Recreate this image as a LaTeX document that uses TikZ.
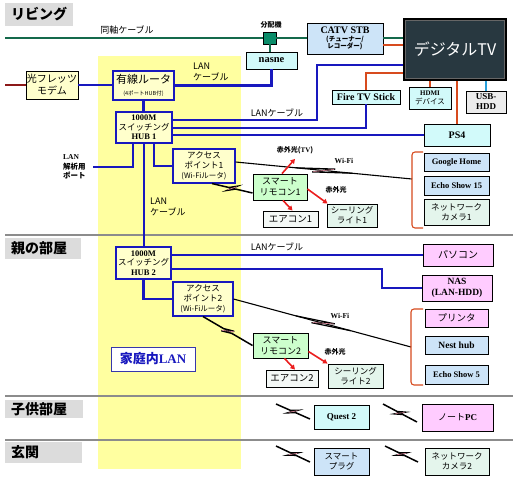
\documentclass[tikz,border=0pt]{standalone}
\usepackage{fontspec}
\setmainfont{Liberation Serif}
\newfontfamily\jp{Noto Sans CJK JP}
\usetikzlibrary{arrows.meta,calc}
\definecolor{lanblue}{RGB}{24,24,190}
\definecolor{coax}{RGB}{20,105,75}
\definecolor{splitg}{RGB}{10,140,105}
\definecolor{hdmi}{RGB}{215,75,30}
\definecolor{ired}{RGB}{235,30,30}
\definecolor{modemred}{RGB}{140,25,25}
\definecolor{usbblue}{RGB}{40,160,220}
\definecolor{yel}{RGB}{255,255,160}
\definecolor{boxyel}{RGB}{255,255,204}
\definecolor{cyanbox}{RGB}{210,250,250}
\definecolor{bluebox}{RGB}{205,228,248}
\definecolor{pinkbox}{RGB}{255,204,255}
\definecolor{greenbox}{RGB}{204,255,204}
\definecolor{mintbox}{RGB}{228,245,236}
\definecolor{whitebox}{RGB}{244,248,246}
\definecolor{graybox}{RGB}{236,236,236}
\definecolor{roomgray}{RGB}{220,220,220}
\definecolor{tvfill}{RGB}{40,56,64}
\definecolor{sepgray}{RGB}{140,140,140}
\definecolor{zappink}{RGB}{240,150,170}
\newcommand\fz[2]{\fontsize{#1}{#2}\selectfont}
\newcommand\bx[7]{\node[#6, minimum width={(#4-#2)*1pt}, minimum height={(#5-#3)*1pt}] (#1) at ({(#2+#4)/2},{(#3+#5)/2}) {#7};}
\newcommand\zap[2]{%
  \draw[line width=1.5pt, black] (#1) -- ($(#1)!0.42!(#2)$) -- ($(#1)!0.6!(#2)!3pt!90:(#2)$) -- ($(#1)!0.4!(#2)!3pt!-90:(#2)$) -- ($(#1)!0.58!(#2)$) -- (#2);
  \draw[line width=0.6pt, zappink] ($(#1)!0.6!(#2)!2.5pt!90:(#2)$) -- ($(#1)!0.4!(#2)!2.5pt!-90:(#2)$);}
\newcommand\zapw[2]{%
  \draw[line width=1.2pt, black] (#1) -- ($(#1)!0.7!(#2)!2.5pt!90:(#2)$) -- ($(#1)!0.3!(#2)!2.5pt!-90:(#2)$) -- (#2);
  \draw[line width=0.6pt, zappink] ($(#1)!0.68!(#2)!2pt!90:(#2)$) -- ($(#1)!0.32!(#2)!2pt!-90:(#2)$);}
\tikzset{
  dev/.style={draw=black, line width=0.9pt, inner sep=1pt, align=center, font=\jp\fz{9}{10.5}},
  ybox/.style={draw=lanblue, fill=boxyel, line width=1.1pt, inner sep=1pt, align=center},
  room/.style={fill=roomgray, inner xsep=6pt, inner ysep=0pt, align=left, font=\jp\bfseries\fz{14}{16}},
  lan/.style={draw=lanblue, line width=2.2pt},
  coaxl/.style={draw=coax, line width=2pt},
  av/.style={draw=hdmi, line width=2pt},
  wifi/.style={draw=black, line width=1.1pt},
  brk/.style={draw=hdmi, line width=1.1pt, rounded corners=3pt},
  lbl/.style={inner sep=0pt, align=left, font=\jp\fz{9}{10.5}},
  slbl/.style={inner sep=0pt, align=left, font=\jp\bfseries\fz{7}{8.5}},
  irarr/.style={draw=ired, line width=1.6pt, -{Triangle[length=4.5pt,width=5pt]}},
  sep/.style={draw=sepgray, line width=2pt}
}
\begin{document}
\begin{tikzpicture}[x=1pt,y=-1pt]
\useasboundingbox (0,0) rectangle (516,483);
\fill[white] (0,0) rectangle (516,483);
\fill[yel] (98,56) rectangle (241,469);
\draw[sep] (5,235) -- (513,235);
\draw[sep] (5,396) -- (513,396);
\draw[sep] (5,440) -- (513,440);
% rooms
\bx{rliving}{5}{3}{73}{26}{room, text width=56pt}{リビング}
\bx{rparent}{5}{238}{81}{259}{room, text width=64pt}{親の部屋}
\bx{rchild}{5}{400}{83}{418}{room, text width=66pt}{子供部屋}
\bx{rentr}{5}{442}{82}{463}{room, text width=65pt}{玄関}
% living devices
\bx{split}{263}{32}{276}{44}{draw=black, fill=splitg, line width=0.8pt, inner sep=0pt}{}
\bx{nasne}{246}{52}{297}{69}{dev, fill=cyanbox, font=\fz{10.5}{12}\bfseries}{nasne}
\bx{stb}{307}{23}{383}{54}{dev, fill=bluebox, font=\jp\bfseries\fz{6.5}{7.5}}{{\rmfamily\fz{10}{11}\bfseries CATV STB}\\(チューナー/\\レコーダー)}
\bx{tv}{404}{19}{506}{80}{draw=black, fill=tvfill, line width=2.5pt, text=white, font=\jp\fz{16}{18}}{デジタルTV}
\draw[gray!80!black, line width=0.6pt] ([shift={(3pt,-3pt)}]tv.north west) rectangle ([shift={(-3pt,3pt)}]tv.south east);
\bx{hdmi}{409}{87}{451}{109}{dev, fill=cyanbox, font=\jp\fz{7.5}{8.5}}{{\rmfamily\bfseries\fz{7}{8}HDMI}\\デバイス}
\bx{usb}{466}{91}{506}{113}{dev, fill=graybox, font=\fz{9}{10}\bfseries}{USB-\\HDD}
\bx{fire}{332}{90}{400}{104}{dev, fill=cyanbox, font=\fz{10}{11}\bfseries}{Fire TV Stick}
\bx{ps4}{424}{124}{490}{146}{dev, fill=cyanbox, font=\fz{10}{11}\bfseries}{PS4}
\bx{modem}{26}{71}{78}{99}{dev, fill=boxyel, font=\jp\fz{10}{12}}{光フレッツ\\モデム}
\bx{router}{113}{71}{174}{100}{ybox, font=\jp\fz{11}{12}}{有線ルータ\\{\fz{5.5}{7}(4ポートHUB付)}}
\bx{hub1}{116}{112}{172}{143}{ybox, font=\jp\fz{8.5}{9.6}}{{\rmfamily\bfseries 1000M}\\スイッチング\\{\rmfamily\bfseries HUB 1}}
\bx{ap1}{173}{149}{235}{183}{ybox, font=\jp\fz{8.5}{10.2}}{アクセス\\ポイント1\\{\fz{7.5}{10}(Wi-Fiルータ)}}
\bx{remo1}{253}{174}{307}{200}{dev, fill=greenbox, font=\jp\fz{9}{11}}{スマート\\リモコン1}
\bx{aircon1}{263}{211}{318}{227}{dev, fill=whitebox, font=\jp\fz{9.5}{11}}{エアコン1}
\bx{ceil1}{327}{204}{377}{227}{dev, fill=mintbox, font=\jp\fz{8.5}{10}}{シーリング\\ライト1}
\bx{ghome}{424}{153}{489}{171}{dev, fill=bluebox, font=\fz{8.5}{10}\bfseries}{Google Home}
\bx{echo15}{424}{176}{489}{195}{dev, fill=bluebox, font=\fz{8.5}{10}\bfseries}{Echo Show 15}
\bx{cam1}{424}{199}{489}{225}{dev, fill=mintbox, font=\jp\fz{8.5}{10}}{ネットワーク\\カメラ1}
% parent room
\bx{hub2}{116}{247}{171}{279}{ybox, font=\jp\fz{8.5}{9.6}}{{\rmfamily\bfseries 1000M}\\スイッチング\\{\rmfamily\bfseries HUB 2}}
\bx{ap2}{173}{282}{233}{316}{ybox, font=\jp\fz{8.5}{10.2}}{アクセス\\ポイント2\\{\fz{7.5}{10}(Wi-Fiルータ)}}
\bx{homelan}{111}{347}{195}{371}{draw=lanblue!70!gray, fill=white, line width=0.8pt, text=lanblue, font=\jp\bfseries\fz{13}{15}}{家庭内{\rmfamily LAN}}
\bx{pc}{423}{244}{493}{266}{dev, fill=pinkbox, font=\jp\fz{10}{12}}{パソコン}
\bx{nas}{422}{275}{492}{301}{dev, fill=pinkbox, font=\fz{9.5}{11}\bfseries}{NAS\\(LAN-HDD)}
\bx{printer}{425}{309}{488}{327}{dev, fill=pinkbox, font=\jp\fz{9.5}{11}}{プリンタ}
\bx{nest}{425}{336}{488}{354}{dev, fill=bluebox, font=\fz{9.5}{11}\bfseries}{Nest hub}
\bx{echo5}{425}{365}{488}{384}{dev, fill=bluebox, font=\fz{8.5}{10}\bfseries}{Echo Show 5}
\bx{remo2}{253}{333}{308}{358}{dev, fill=greenbox, font=\jp\fz{9}{11}}{スマート\\リモコン2}
\bx{aircon2}{266}{370}{318}{387}{dev, fill=whitebox, font=\jp\fz{9.5}{11}}{エアコン2}
\bx{ceil2}{328}{364}{383}{388}{dev, fill=mintbox, font=\jp\fz{8.5}{10}}{シーリング\\ライト2}
% child room, entrance
\bx{quest}{314}{405}{369}{429}{dev, fill=cyanbox, font=\fz{9}{10}\bfseries}{Quest 2}
\bx{notepc}{422}{404}{493}{431}{dev, fill=pinkbox, font=\jp\fz{9}{10}}{ノート{\rmfamily\bfseries PC}}
\bx{plug}{314}{448}{369}{475}{dev, fill=bluebox, font=\jp\fz{8.5}{10}}{スマート\\プラグ}
\bx{cam2}{425}{448}{489}{475}{dev, fill=mintbox, font=\jp\fz{8.5}{10}}{ネットワーク\\カメラ2}
% labels
\node[lbl] (coaxlbl) at (127,30) {同軸ケーブル};
\node[slbl] (splitlbl) at (271,25) {分配機};
\node[lbl, anchor=west] (lan1lbl) at (193,72) {LAN\\ケーブル};
\node[lbl] (lan2lbl) at (277,113) {LANケーブル};
\node[lbl, anchor=west] (lan3lbl) at (150,207) {LAN\\ケーブル};
\node[lbl] (lan4lbl) at (277,247) {LANケーブル};
\node[slbl, anchor=west, font=\jp\bfseries\fz{7.5}{9.5}] (portlbl) at (63,167) {{\rmfamily LAN}\\解析用\\ポート};
\node[slbl] (irtv) at (295,150) {赤外光({\rmfamily TV})};
\node[slbl] (ir1) at (336,190) {赤外光};
\node[slbl] (ir2) at (335,352) {赤外光};
\node[slbl, font=\rmfamily\bfseries\fz{7.5}{9}] (wifi1) at (344,161) {Wi-Fi};
\node[slbl, font=\rmfamily\bfseries\fz{7.5}{9}] (wifi2) at (340,316) {Wi-Fi};
% coax and AV
\coordinate (cleft) at (5,38);
\draw[coaxl] (cleft) -- (split.west);
\draw[coaxl] (split.east) -- (stb.west |- split.east);
\draw[coaxl] (stb.east |- split.east) -- (tv.west |- split.east);
\draw[coaxl] (split.south) -- (split.south |- nasne.north);
\draw[av] (stb.east |- 0,45) -- (tv.west |- 0,45);
\draw[av] (tv.west |- 0,73) -| (fire.north);
\draw[av] (tv.south -| hdmi.north) -- (hdmi.north);
\draw[av] (tv.south -| ps4.north) -- (ps4.north);
\draw[draw=usbblue, line width=2pt] (tv.south -| usb.north) -- (usb.north);
% LAN
\coordinate (mleft) at (5,85);
\draw[draw=modemred, line width=2pt] (mleft) -- (modem.west);
\draw[lan] (modem.east) -- (router.west |- modem.east);
\draw[lan] (router.east) -| (nasne.south);
\draw[lan] (router.south) -- (router.south |- hub1.north);
\draw[lan] (hub1.east |- 0,120) -| (317,65) -- (tv.west |- 0,65);
\draw[lan] (hub1.east |- 0,128) -| (fire.south);
\draw[lan] (hub1.east |- ps4.west) -- (ps4.west);
\coordinate (lanport) at (93,167);
\draw[lan] (hub1.south -| 133,0) |- (lanport);
\draw[lan] (hub1.south -| 154,0) |- (ap1.west);
\draw[lan] (hub1.south) -- (hub1.south |- hub2.north);
\draw[lan] (hub2.east |- pc.west) -- (pc.west);
\draw[lan] (hub2.east |- 0,269) -| (382,288) -- (nas.west);
\draw[lan] (hub2.south) |- (ap2.west);
% Wi-Fi
\coordinate (b1) at (412,179);
\coordinate (b2) at (411,347);
\draw[wifi] ([yshift=4pt]ap1.east) -- (b1);
\coordinate (w1a) at ($([yshift=4pt]ap1.east)!0.34!(b1)$);
\coordinate (w1b) at ($([yshift=4pt]ap1.east)!0.66!(b1)$);
\zapw{w1a}{w1b}
\draw[wifi] (ap2.east) -- (b2);
\coordinate (w2a) at ($(ap2.east)!0.35!(b2)$);
\coordinate (w2b) at ($(ap2.east)!0.66!(b2)$);
\zapw{w2a}{w2b}
\draw[brk] (423,152) -- (412,152) -- (412,228) -- (423,228);
\draw[brk] (423,309) -- (411,309) -- (411,385) -- (423,385);
\zap{[xshift=8pt]ap1.south}{[yshift=-6pt]remo1.west}
\zap{ap2.south}{remo2.west}
\coordinate (z1a) at (276,404); \coordinate (z1b) at (310,419);
\coordinate (z2a) at (383,404); \coordinate (z2b) at (417,422);
\coordinate (z3a) at (276,446); \coordinate (z3b) at (310,462);
\coordinate (z4a) at (385,446); \coordinate (z4b) at (418,462);
\zap{z1a}{z1b}
\zap{z2a}{z2b}
\zap{z3a}{z3b}
\zap{z4a}{z4b}
% infrared
\draw[irarr] ([xshift=2pt]remo1.north) -- ([yshift=-5pt]irtv.south);
\draw[irarr] ([xshift=3pt]remo1.south) -- ([xshift=2pt]aircon1.north);
\draw[irarr] ([yshift=-2pt]remo1.east) -- ([xshift=1pt]ceil1.north west);
\draw[irarr] ([xshift=4pt]remo2.south) -- ([xshift=3pt]aircon2.north);
\draw[irarr] ([yshift=-6pt]remo2.east) -- (ceil2.north west);
\end{tikzpicture}
\end{document}
